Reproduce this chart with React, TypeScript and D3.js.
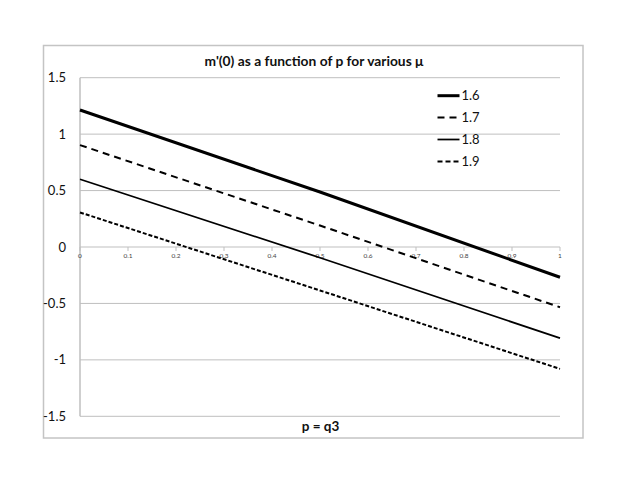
import React from "react";
import * as d3 from "d3";

const pValues = [0, 0.5, 1];
const seriesNames = ["1.6", "1.7", "1.8", "1.9"];
const series16 = [1.214, 0.487, -0.268];
const series17 = [0.903, 0.19, -0.534];
const series18 = [0.6, -0.095, -0.808];
const series19 = [0.306, -0.385, -1.08];
const allSeries = [series16, series17, series18, series19];
const xTicks = [0, 0.1, 0.2, 0.3, 0.4, 0.5, 0.6, 0.7, 0.8, 0.9, 1];
const yTicks = [1.5, 1, 0.5, 0, -0.5, -1, -1.5];

const styles = [
  { w: 3, dash: "" },
  { w: 2, dash: "7,5" },
  { w: 1.75, dash: "" },
  { w: 2, dash: "4,2" },
];

export default function App() {
  const W = 627, H = 485;
  const x = d3.scaleLinear().domain([0, 1]).range([80, 560]);
  const y = d3.scaleLinear().domain([-1.5, 1.5]).range([416.3, 77.7]);
  const line = d3
    .line<number>()
    .x((_, i) => x(pValues[i]))
    .y((d) => y(d));
  const font = "Lato, 'Open Sans', sans-serif";
  const grid = "#bfbfbf";
  return (
    <svg
      width={W}
      height={H}
      style={{ position: "absolute", left: 0, top: 0, background: "#fff" }}
      fontFamily={font}
    >
      <rect x={0} y={0} width={W} height={H} fill="#fff" />
      <rect x={43.5} y={45.5} width={539.5} height={392.5} fill="none" stroke="#c4c4c4" strokeWidth={1.5} />
      {yTicks.map((t) => (
        <g key={"y" + t}>
          <line x1={x(0)} x2={x(1)} y1={y(t)} y2={y(t)} stroke={grid} strokeWidth={1} />
          <text x={66} y={y(t)} dy="0.35em" textAnchor="end" fontSize={13} fill="#111">
            {t}
          </text>
        </g>
      ))}
      <line x1={x(0)} x2={x(0)} y1={y(1.5)} y2={y(-1.5)} stroke={grid} strokeWidth={1.5} />
      {xTicks.map((t) => (
        <g key={"x" + t}>
          <line x1={x(t)} x2={x(t)} y1={y(0)} y2={y(0) + 4} stroke={grid} strokeWidth={1} />
          <text x={x(t)} y={y(0) + 10.5} textAnchor="middle" fontSize={6.5} fill="#444">
            {t}
          </text>
        </g>
      ))}
      {allSeries.map((s, i) => (
        <path
          key={"s" + i}
          d={line(s) || ""}
          fill="none"
          stroke="#000"
          strokeWidth={styles[i].w}
          strokeDasharray={styles[i].dash}
        />
      ))}
      {seriesNames.map((n, i) => {
        const ly = [95.7, 117.5, 139.5, 161.5][i];
        return (
          <g key={"l" + n}>
            <line x1={437.5} x2={459.5} y1={ly} y2={ly} stroke="#000" strokeWidth={styles[i].w} strokeDasharray={i === 3 ? "5,3" : styles[i].dash} />
            <text x={461.5} y={ly} dy="0.35em" fontSize={13} fill="#111">
              {n}
            </text>
          </g>
        );
      })}
      <text x={314} y={61} dy="0.35em" textAnchor="middle" fontSize={13.8} fontWeight="bold" fill="#111">
        m'(0) as a function of p for various μ
      </text>
      <text x={320.5} y={426} dy="0.35em" textAnchor="middle" fontSize={13.5} fontWeight="bold" fill="#111">
        p = q3
      </text>
    </svg>
  );
}
